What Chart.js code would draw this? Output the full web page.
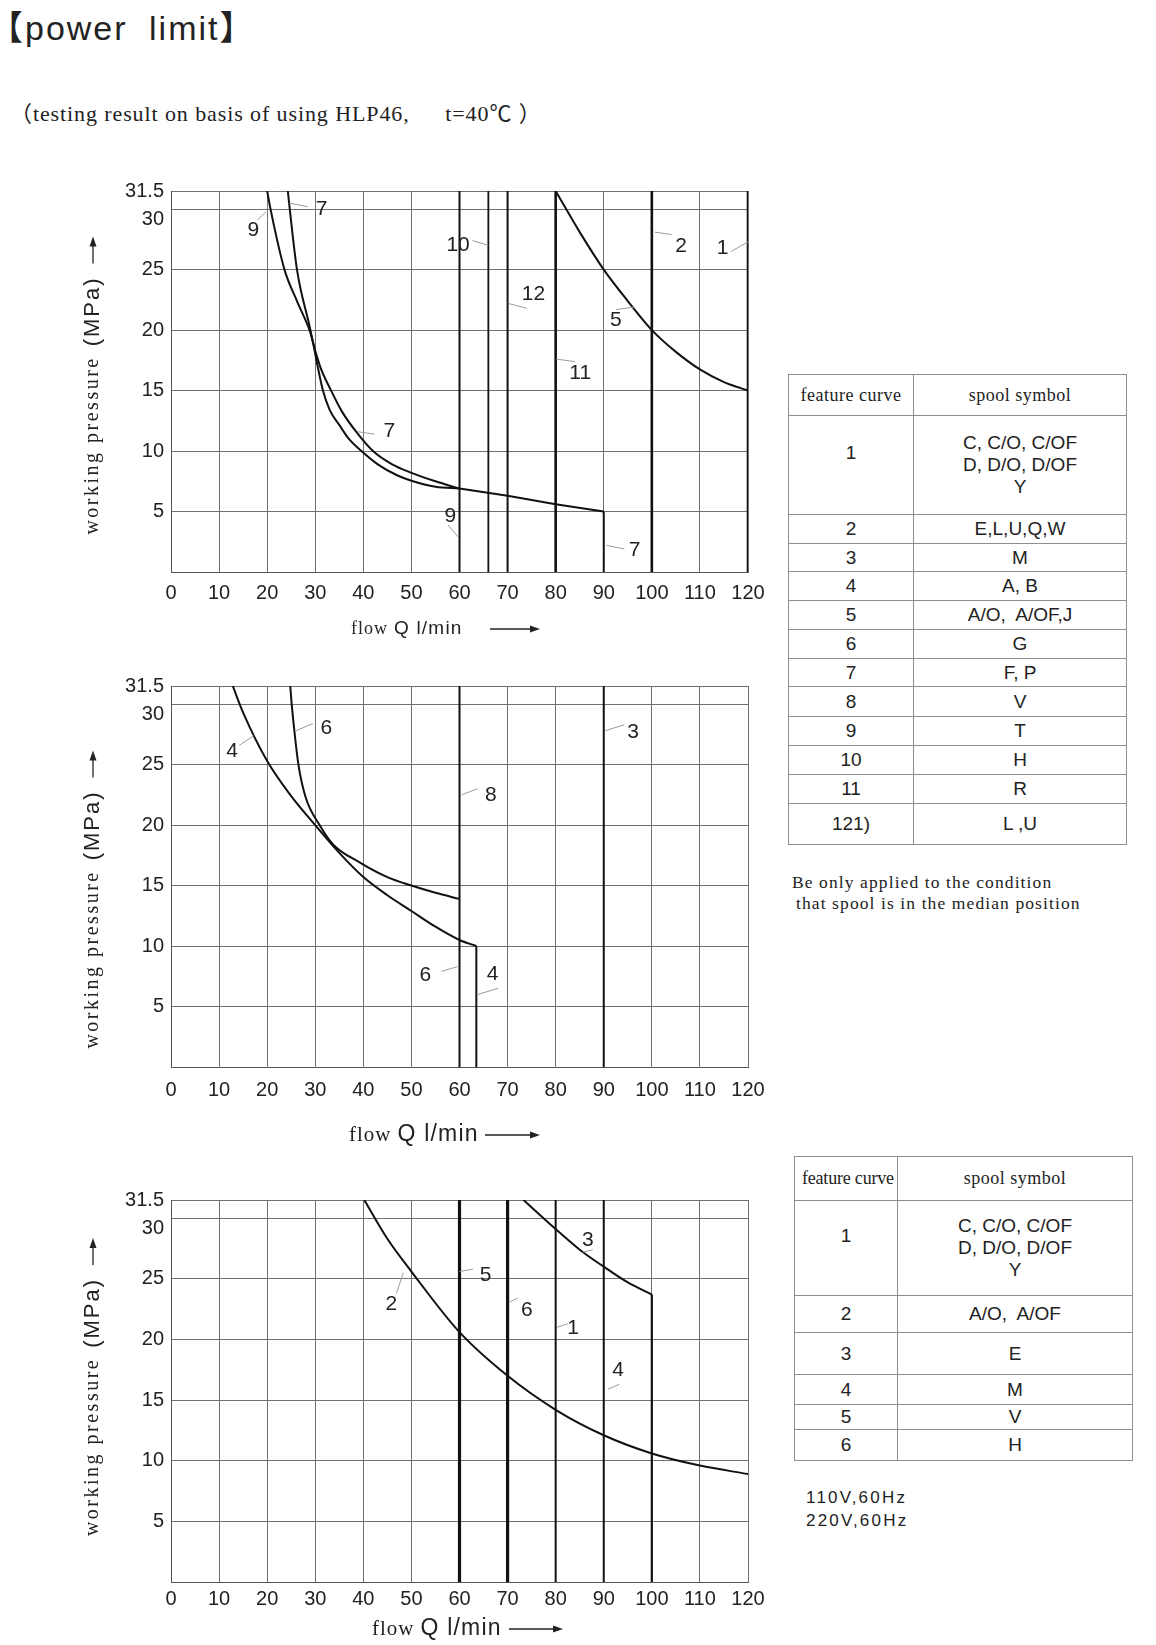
<!DOCTYPE html>
<html>
<head>
<meta charset="utf-8">
<title>power limit</title>
<script src="https://cdn.jsdelivr.net/npm/chart.js@4.4.1/dist/chart.umd.min.js"></script>
<style>
    body { margin: 0; background: #ffffff; }
    #page { position: relative; width: 1156px; height: 1645px; overflow: hidden; background: #ffffff; color: #222; }
    .heading { position: absolute; left: -11px; top: 9px; font: 34px 'Liberation Sans', 'Noto Sans CJK SC', sans-serif; letter-spacing: 2px; word-spacing: 10px; line-height: 38px; white-space: nowrap; }
    .subheading { position: absolute; left: 10px; top: 100px; font: 22px 'Liberation Serif', 'Noto Sans CJK SC', serif; letter-spacing: 0.9px; line-height: 28px; white-space: nowrap; }
    canvas.chart { position: absolute; left: 0; }
    table.spool { position: absolute; border-collapse: collapse; table-layout: fixed; }
    table.spool td, table.spool th { border: 1px solid #8e8e8e; padding: 0; text-align: center; vertical-align: middle; color: #222; font: 19px 'Liberation Sans', Arial, sans-serif; line-height: 22px; overflow: hidden; white-space: nowrap; }
    table.spool th { font: 18px 'Liberation Serif', serif; font-weight: normal; letter-spacing: 0.5px; }
    .note { position: absolute; white-space: nowrap; }
    .note.serif { font: 17.5px 'Liberation Serif', serif; letter-spacing: 1.1px; line-height: 21px; }
    .note.sans { font: 17px 'Liberation Sans', Arial, sans-serif; letter-spacing: 2.2px; line-height: 23px; }
</style>
</head>
<body>
<div id="page">
    <div class="heading">【power limit】</div>
    <div class="subheading">（testing result on basis of using HLP46,　&nbsp; t=40℃ ）</div>

    <canvas id="chart1" class="chart" width="780" height="505" style="top:150px"></canvas>
    <canvas id="chart2" class="chart" width="780" height="505" style="top:655px"></canvas>
    <canvas id="chart3" class="chart" width="780" height="485" style="top:1160px"></canvas>

    <table id="table1" class="spool" style="left:788px; top:374px; width:338px"></table>
    <div class="note serif" style="left:792px; top:872px">Be only applied to the condition</div>
    <div class="note serif" style="left:796px; top:893px">that spool is in the median position</div>

    <table id="table2" class="spool" style="left:794px; top:1156px; width:338px"></table>
    <div class="note sans" style="left:806px; top:1486px">110V,60Hz</div>
    <div class="note sans" style="left:806px; top:1509px">220V,60Hz</div>
</div>

<script>
// ---------------- data ----------------
var flowTicks = [0, 10, 20, 30, 40, 50, 60, 70, 80, 90, 100, 110, 120];
var pressureTicks = [0, 5, 10, 15, 20, 25, 30, 31.5];

// chart 1
var c1Curve9Flow = [20, 20.7, 23.6, 26.2, 28.8, 29.4, 30.5, 31.6, 33, 35.1, 37, 39.6, 43, 47, 50, 55, 60];
var c1Curve9Pressure = [31.5, 30, 25, 22.4, 20, 19.2, 17, 15, 13.4, 12.1, 11, 10, 8.9, 8.0, 7.55, 7.05, 6.9];
var c1Curve7Flow = [24.3, 24.7, 26.2, 29, 29.4, 31, 33.3, 35.5, 38.5, 42, 46, 50, 55, 60];
var c1Curve7Pressure = [31.5, 30, 25, 20, 19.2, 17, 15, 13.3, 11.6, 10, 8.9, 8.2, 7.5, 6.9];
var c1TailFlow = [60, 70, 80, 90];
var c1TailPressure = [6.9, 6.3, 5.6, 5.0];
var c1DropFlow = [90, 90];
var c1DropPressure = [5.0, 0];
var c1Curve5Flow = [80, 85, 90, 95, 100, 105, 110, 115, 120];
var c1Curve5Pressure = [31.5, 28.1, 25.0, 22.4, 20, 18.2, 16.75, 15.7, 15];
var c1Verticals = [60, 66, 70, 80, 100, 120];
// [label, flow, pressure, leader flow 1, leader pressure 1, leader flow 2, leader pressure 2]
var c1Callouts = [
    ['9', 17.1, 28.3, 18.0, 29.1, 19.8, 29.8],
    ['7', 31.3, 30.0, 24.6, 30.5, 28.4, 30.2],
    ['10', 59.7, 27.0, 62.7, 27.4, 66, 27.0],
    ['12', 75.4, 23.0, 70.2, 22.2, 74, 21.8],
    ['5', 92.5, 20.8, 92.6, 21.7, 96.4, 21.9],
    ['11', 85.1, 16.4, 80.1, 17.6, 84, 17.4],
    ['2', 106.1, 26.9, 100.6, 28.1, 104.1, 27.9],
    ['1', 114.7, 26.8, 116.5, 26.5, 120, 27.3],
    ['7', 45.4, 11.6, 38.8, 11.6, 42.3, 11.4],
    ['9', 58.1, 4.6, 57.6, 3.9, 59.7, 2.9],
    ['7', 96.4, 1.8, 90.6, 2.2, 94.3, 1.9]
];

// chart 2
var c2Curve4Flow = [12.85, 15, 20, 25, 30, 35, 40, 45, 50, 55, 60, 63.5];
var c2Curve4Pressure = [31.5, 29.3, 25.3, 22.4, 20, 17.7, 15.7, 14.2, 12.9, 11.6, 10.5, 10];
var c2Drop4Flow = [63.5, 63.5];
var c2Drop4Pressure = [10, 0];
var c2Curve6Flow = [24.8, 25.1, 25.6, 26.5, 28, 30.9, 33.7, 39.3, 45, 50, 55, 60];
var c2Curve6Pressure = [31.5, 30, 28, 25, 22.3, 20, 18.4, 16.9, 15.7, 15.0, 14.4, 13.9];
var c2Verticals = [60, 90];
var c2Callouts = [
    ['4', 12.7, 26.1, 14.2, 26.6, 17.3, 27.4],
    ['6', 32.3, 28.0, 26.0, 27.8, 29.5, 28.4],
    ['8', 66.5, 22.5, 60.4, 22.5, 63.8, 23.0],
    ['3', 96.1, 27.7, 90.3, 27.8, 94.3, 28.3],
    ['6', 52.9, 7.6, 56.2, 7.9, 59.6, 8.3],
    ['4', 66.9, 7.7, 63.8, 6.0, 68, 6.5]
];

// chart 3
var c3Curve2Flow = [40.2, 45, 50, 60, 70, 80, 90, 100, 110, 120];
var c3Curve2Pressure = [31.5, 28.3, 25.6, 20.6, 17.0, 14.2, 12.1, 10.6, 9.6, 8.9];
var c3Curve3Flow = [73.3, 80, 85, 90, 95, 100];
var c3Curve3Pressure = [31.5, 29.1, 27.4, 26.0, 24.7, 23.7];
var c3Drop3Flow = [100, 100];
var c3Drop3Pressure = [23.7, 0];
var c3Verticals = [60, 70, 80, 90];
var c3Callouts = [
    ['3', 86.7, 28.2, 85.7, 27.2, 87.7, 27.4],
    ['5', 65.4, 25.3, 60, 25.6, 62.8, 25.8],
    ['2', 45.8, 22.9, 46.9, 23.8, 48.3, 25.5],
    ['6', 74.0, 22.4, 70.4, 23.1, 72.1, 23.4],
    ['1', 83.6, 20.9, 80.3, 21.0, 82.5, 21.3],
    ['4', 93.0, 17.5, 90.9, 15.9, 93.2, 16.3]
];

// tables
var table1Curves = ['1', '2', '3', '4', '5', '6', '7', '8', '9', '10', '11', '121)'];
var table1Spools = ['C, C/O, C/OF<br>D, D/O, D/OF<br>Y', 'E,L,U,Q,W', 'M', 'A, B', 'A/O,&nbsp; A/OF,J', 'G', 'F, P', 'V', 'T', 'H', 'R', 'L ,U'];
var table2Curves = ['1', '2', '3', '4', '5', '6'];
var table2Spools = ['C, C/O, C/OF<br>D, D/O, D/OF<br>Y', 'A/O,&nbsp; A/OF', 'E', 'M', 'V', 'H'];

// ---------------- helpers ----------------
var SANS = "'Liberation Sans', Arial, sans-serif";
var SERIF = "'Liberation Serif', 'Times New Roman', serif";

function toPoints(qs, ps) {
    return qs.map(function (q, i) { return { x: q, y: ps[i] }; });
}

function curve(qs, ps, width) {
    return {
        data: toPoints(qs, ps),
        borderColor: '#111',
        borderWidth: width || 2,
        pointRadius: 0,
        cubicInterpolationMode: 'monotone',
        fill: false
    };
}

function straight(qs, ps, width) {
    return {
        data: toPoints(qs, ps),
        borderColor: '#111',
        borderWidth: width || 2,
        pointRadius: 0,
        tension: 0,
        fill: false
    };
}

function vertical(q, width) {
    return straight([q, q], [0, 31.5], width);
}

function drawArrow(ctx, x0, y, len) {
    ctx.beginPath();
    ctx.moveTo(x0, y);
    ctx.lineTo(x0 + len - 6, y);
    ctx.lineWidth = 1.3;
    ctx.strokeStyle = '#222';
    ctx.stroke();
    ctx.beginPath();
    ctx.moveTo(x0 + len, y);
    ctx.lineTo(x0 + len - 10, y - 3.5);
    ctx.lineTo(x0 + len - 10, y + 3.5);
    ctx.closePath();
    ctx.fillStyle = '#222';
    ctx.fill();
}

function drawParts(ctx, parts, x, y) {
    parts.forEach(function (p) {
        ctx.font = p.font;
        ctx.letterSpacing = p.spacing;
        ctx.fillText(p.text, x, y);
        x += ctx.measureText(p.text).width + p.after;
    });
    ctx.letterSpacing = '0px';
    return x;
}

function partsWidth(ctx, parts) {
    var w = 0;
    parts.forEach(function (p) {
        ctx.font = p.font;
        ctx.letterSpacing = p.spacing;
        w += ctx.measureText(p.text).width + p.after;
    });
    ctx.letterSpacing = '0px';
    return w;
}

// callout numbers, leaders and axis titles
var decorPlugin = {
    id: 'powerDecor',
    afterDatasetsDraw: function (chart, args, opts) {
        var ctx = chart.ctx,
            xs = chart.scales.x,
            ys = chart.scales.y;
        ctx.save();
        opts.callouts.forEach(function (c) {
            ctx.beginPath();
            ctx.moveTo(xs.getPixelForValue(c[3]), ys.getPixelForValue(c[4]));
            ctx.lineTo(xs.getPixelForValue(c[5]), ys.getPixelForValue(c[6]));
            ctx.strokeStyle = '#9a9a9a';
            ctx.lineWidth = 1;
            ctx.stroke();
            ctx.font = '21px ' + SANS;
            ctx.fillStyle = '#222';
            ctx.textAlign = 'center';
            ctx.textBaseline = 'middle';
            ctx.fillText(c[0], xs.getPixelForValue(c[1]), ys.getPixelForValue(c[2]));
        });
        ctx.restore();
    },
    afterDraw: function (chart, args, opts) {
        var ctx = chart.ctx,
            area = chart.chartArea;
        ctx.save();
        ctx.fillStyle = '#222';
        ctx.textAlign = 'left';
        ctx.textBaseline = 'middle';

        // y title, rotated
        var yParts = [
            { text: 'working pressure', font: '20px ' + SERIF, spacing: '2.5px', after: 10 },
            { text: '(MPa)', font: '22px ' + SANS, spacing: '2px', after: 13 }
        ];
        var total = partsWidth(ctx, yParts) + 27;
        ctx.save();
        ctx.translate(93, (area.top + area.bottom) / 2 + opts.yShift);
        ctx.rotate(-Math.PI / 2);
        var end = drawParts(ctx, yParts, -total / 2, 0);
        drawArrow(ctx, end, 0, 27);
        ctx.restore();

        // x title
        var t = opts.xTitle;
        var xParts = [
            { text: 'flow', font: t.serif + 'px ' + SERIF, spacing: '1px', after: 6 },
            { text: 'Q l/min', font: t.sans + 'px ' + SANS, spacing: '1.2px', after: 0 }
        ];
        var ty = area.bottom + t.dy;
        drawParts(ctx, xParts, t.x, ty);
        drawArrow(ctx, t.arrowX, ty, t.arrowLen);
        ctx.restore();
    }
};

function makeChart(id, datasets, callouts, cfg) {
    return new Chart(document.getElementById(id).getContext('2d'), {
        type: 'line',
        data: { datasets: datasets },
        options: {
            responsive: false,
            animation: false,
            events: [],
            layout: { padding: { left: 0, top: cfg.padTop, right: 32, bottom: 0 } },
            plugins: {
                legend: { display: false },
                tooltip: { enabled: false },
                powerDecor: { callouts: callouts, yShift: cfg.yShift, xTitle: cfg.xTitle }
            },
            scales: {
                x: {
                    type: 'linear',
                    min: 0,
                    max: 120,
                    afterBuildTicks: function (scale) {
                        scale.ticks = flowTicks.map(function (v) { return { value: v }; });
                    },
                    afterFit: function (scale) {
                        scale.height = cfg.xHeight;
                        scale.paddingLeft = 0;
                        scale.paddingRight = 0;
                    },
                    ticks: {
                        autoSkip: false,
                        maxRotation: 0,
                        padding: cfg.xTickPad,
                        color: '#222',
                        font: { family: SANS, size: 20 }
                    },
                    grid: { color: '#707070', lineWidth: 1, drawTicks: false },
                    border: { color: '#555', width: 1 }
                },
                y: {
                    type: 'linear',
                    min: 0,
                    max: 31.5,
                    afterBuildTicks: function (scale) {
                        scale.ticks = pressureTicks.map(function (v) { return { value: v }; });
                    },
                    afterFit: function (scale) {
                        scale.width = 171;
                        scale.paddingTop = 0;
                        scale.paddingBottom = 0;
                    },
                    ticks: {
                        padding: 7,
                        color: '#222',
                        font: { family: SANS, size: 20, lineHeight: 1.0 },
                        callback: function (value) {
                            if (value === 0) return '';
                            // the 30 label sits a little below its line, clear of 31.5
                            if (value === 30) return ['', '30'];
                            return String(value);
                        }
                    },
                    grid: { color: '#707070', lineWidth: 1, drawTicks: false },
                    border: { color: '#555', width: 1 }
                }
            }
        },
        plugins: [decorPlugin]
    });
}

// ================= chart 1 ======================
var chart1Sets = [];
var c1Widths = [2, 1.8, 2, 2.6, 2.6, 2.6];
c1Verticals.forEach(function (q, i) { chart1Sets.push(vertical(q, c1Widths[i])); });
chart1Sets.push(curve(c1Curve9Flow, c1Curve9Pressure, 2));
chart1Sets.push(curve(c1Curve7Flow, c1Curve7Pressure, 2));
chart1Sets.push(straight(c1TailFlow, c1TailPressure, 2));
chart1Sets.push(straight(c1DropFlow, c1DropPressure, 2));
chart1Sets.push(curve(c1Curve5Flow, c1Curve5Pressure, 2));
makeChart('chart1', chart1Sets, c1Callouts, {
    padTop: 41, xHeight: 83, xTickPad: 9, yShift: 4,
    xTitle: { x: 351, dy: 57, serif: 18, sans: 19, arrowX: 490, arrowLen: 50 }
});

// ================= chart 2 ======================
var chart2Sets = [];
c2Verticals.forEach(function (q) { chart2Sets.push(vertical(q, 2)); });
chart2Sets.push(curve(c2Curve4Flow, c2Curve4Pressure, 2));
chart2Sets.push(straight(c2Drop4Flow, c2Drop4Pressure, 2));
chart2Sets.push(curve(c2Curve6Flow, c2Curve6Pressure, 2));
makeChart('chart2', chart2Sets, c2Callouts, {
    padTop: 31, xHeight: 93, xTickPad: 11, yShift: 23,
    xTitle: { x: 349, dy: 68, serif: 21, sans: 23, arrowX: 485, arrowLen: 55 }
});

// ================= chart 3 ======================
var chart3Sets = [];
var c3Widths = [3.2, 3.2, 2, 2];
c3Verticals.forEach(function (q, i) { chart3Sets.push(vertical(q, c3Widths[i])); });
chart3Sets.push(curve(c3Curve2Flow, c3Curve2Pressure, 2));
chart3Sets.push(curve(c3Curve3Flow, c3Curve3Pressure, 2));
chart3Sets.push(straight(c3Drop3Flow, c3Drop3Pressure, 2.2));
makeChart('chart3', chart3Sets, c3Callouts, {
    padTop: 40, xHeight: 63, xTickPad: 5, yShift: -4,
    xTitle: { x: 372, dy: 47, serif: 21, sans: 23, arrowX: 509, arrowLen: 54 }
});

// ================= tables ======================
function buildTable(id, curves, spools, colWidths, rowHeights, headStyle) {
    var html = '<colgroup><col style="width:' + colWidths[0] + 'px"><col style="width:' + colWidths[1] + 'px"></colgroup>';
    html += '<tr style="height:' + rowHeights[0] + 'px"><th style="' + headStyle + '">feature curve</th><th>spool symbol</th></tr>';
    curves.forEach(function (c, i) {
        var pad = i === 0 ? 'padding-bottom:24px;' : '';
        html += '<tr style="height:' + rowHeights[i + 1] + 'px"><td style="' + pad + '">' + c + '</td><td>' + spools[i] + '</td></tr>';
    });
    document.getElementById(id).innerHTML = html;
}

buildTable('table1', table1Curves, table1Spools, [125, 213],
    [41, 99, 29, 28, 29, 29, 29, 28, 30, 29, 29, 29, 41], '');
buildTable('table2', table2Curves, table2Spools, [103, 235],
    [44, 95, 37, 42, 30, 25, 31], 'text-align:left; padding-left:7px; font-size:18px; letter-spacing:-0.2px;');
</script>
</body>
</html>
